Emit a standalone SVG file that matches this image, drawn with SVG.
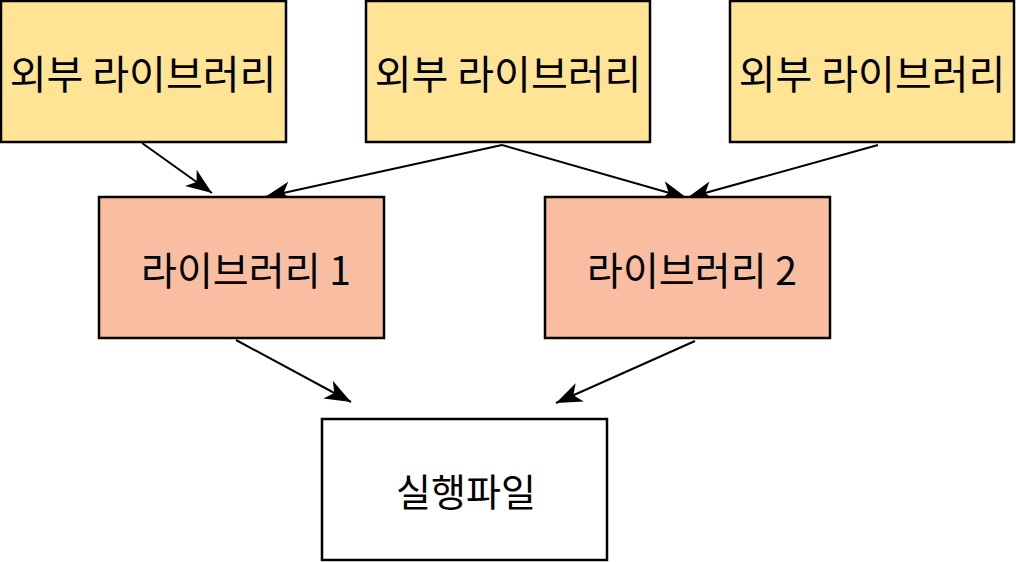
<svg xmlns="http://www.w3.org/2000/svg" width="1016" height="562" viewBox="0 0 1016 562">
<style>
.ext{fill:#ffe496;stroke:#000;stroke-width:2.5}
.lib{fill:#f9bda2;stroke:#000;stroke-width:2.5}
.exe{fill:#fff;stroke:#000;stroke-width:2.5}
text{font-family:"Noto Sans CJK KR","Noto Sans",sans-serif;fill:#000;text-anchor:middle;dominant-baseline:central}
.t1{font-size:40px}
.t2{font-size:39px}
.t3{font-size:38px}
.conn line{stroke:#000;stroke-width:2;marker-end:url(#arr)}
</style>
<defs>
<marker id="arr" markerUnits="userSpaceOnUse" markerWidth="28" markerHeight="24" viewBox="0 0 28 24" refX="26" refY="12" orient="auto">
<path d="M0,2 L26,12 L0,22 L7,12 z" fill="#000"/>
</marker>
</defs>
<rect width="1016" height="562" fill="#fff"/>
<g class="conn">
<line x1="142" y1="143" x2="212" y2="193"/>
<line x1="502" y1="145" x2="265" y2="197"/>
<line x1="502" y1="145" x2="687" y2="198"/>
<line x1="878" y1="145" x2="687" y2="198"/>
<line x1="236" y1="340" x2="351" y2="402"/>
<line x1="695" y1="341" x2="556" y2="403"/>
</g>
<g id="ext1"><rect class="ext" x="1" y="1" width="285" height="141"/><text class="t1" x="143" y="71.5">외부 라이브러리</text></g>
<g id="ext2"><rect class="ext" x="366" y="1" width="284" height="141"/><text class="t1" x="508" y="71.5">외부 라이브러리</text></g>
<g id="ext3"><rect class="ext" x="730" y="1" width="284" height="141"/><text class="t1" x="872" y="71.5">외부 라이브러리</text></g>
<g id="lib1"><rect class="lib" x="99" y="197" width="285" height="141"/><text class="t2" x="246" y="268">라이브러리 1</text></g>
<g id="lib2"><rect class="lib" x="545" y="197" width="285" height="141"/><text class="t2" x="692" y="268">라이브러리 2</text></g>
<g id="exe"><rect class="exe" x="322" y="419" width="285" height="141"/><text class="t3" x="466" y="489">실행파일</text></g>
</svg>
